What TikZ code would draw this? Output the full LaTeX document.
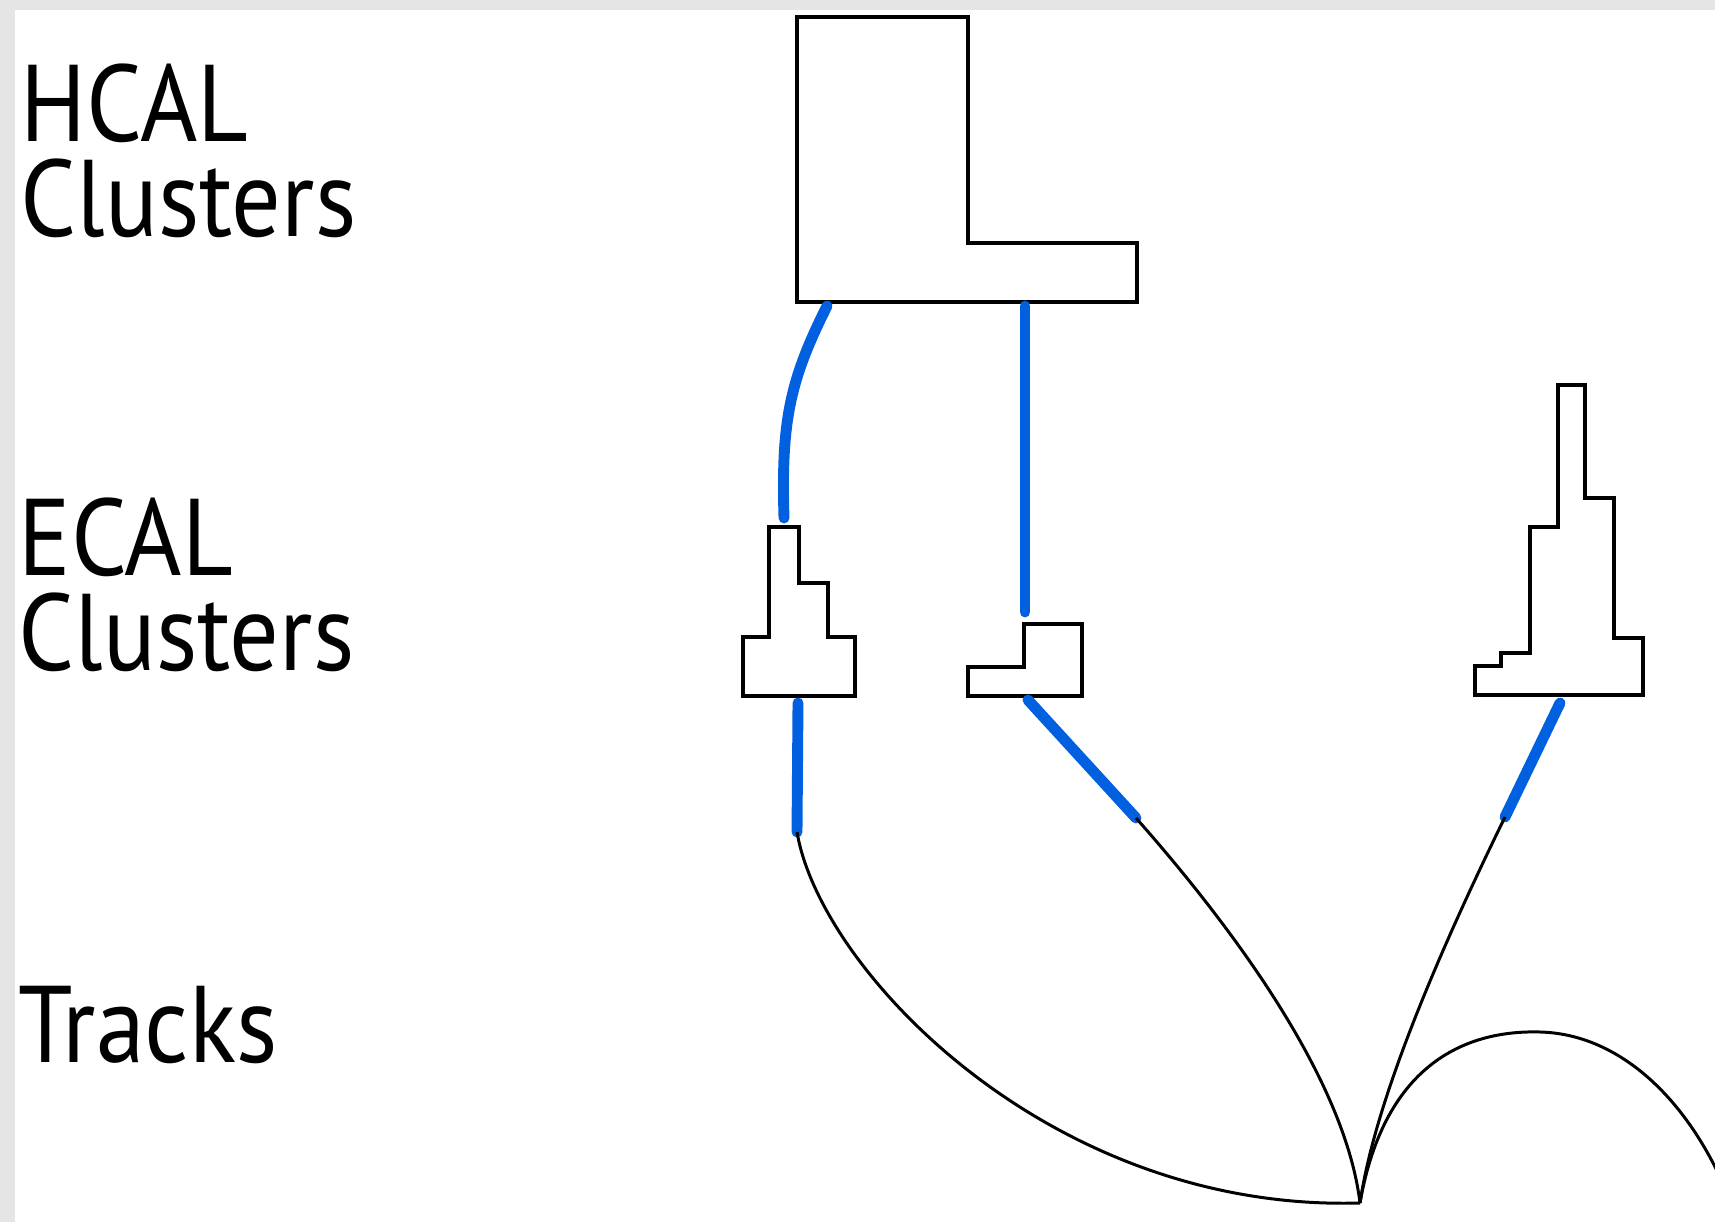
\documentclass[tikz,border=0pt]{standalone}
\usepackage{fontspec}
\newfontfamily\handfont[FakeStretch=0.9]{PT Sans}
\usepackage{xcolor}
\definecolor{trackblue}{RGB}{0,96,224}
\usetikzlibrary{positioning,calc}

\begin{document}
\begin{tikzpicture}[
    x=0.01cm, y=-0.01cm,
    cluster/.style={draw, line width=1.3pt, fill=white, line join=miter},
    link/.style={trackblue, line width=3.1pt, line cap=round},
    track/.style={black, line width=0.85pt},
    every node/.style={align=left, inner sep=0pt, anchor=north west,
        font=\handfont\fontsize{31}{27}\selectfont}
]
\useasboundingbox (0,0) rectangle (1715,1222);

% Frame
\fill[black!10] (0,0) rectangle (1715,1222);
\fill[white] (15,10) rectangle (1715,1222);

% Labels
\node (hcal) at (20,63) {HCAL\\Clusters};
\node (ecal) at (18,497) {ECAL\\Clusters};
\node (tracks) at (18,985) {Tracks};

% HCAL cluster
\draw[cluster] (797,17) -- (968,17) -- (968,243) -- (1137,243) -- (1137,302) -- (797,302) -- cycle;

% ECAL clusters
\draw[cluster] (743,696) -- (743,637) -- (769,637) -- (769,527) -- (799,527) -- (799,583)
    -- (828,583) -- (828,637) -- (855,637) -- (855,696) -- cycle;
\draw[cluster] (968,696) -- (968,667) -- (1024,667) -- (1024,624) -- (1082,624) -- (1082,696) -- cycle;
\draw[cluster] (1475,695) -- (1475,666) -- (1501,666) -- (1501,653) -- (1530,653) -- (1530,527)
    -- (1558,527) -- (1558,385) -- (1585,385) -- (1585,498) -- (1614,498) -- (1614,638)
    -- (1643,638) -- (1643,695) -- cycle;

% Attachment points
\coordinate (h1) at (827,306);
\coordinate (h2) at (1025,306);
\coordinate (e1top) at (784,518);
\coordinate (e2top) at (1025,612);
\coordinate (e1) at (798,703);
\coordinate (e2) at (1028,700);
\coordinate (e3) at (1560,703);
\coordinate (t1) at (797,832);
\coordinate (t2) at (1136,818);
\coordinate (t3) at (1505,817);
\coordinate (vtx) at (1360,1203);
\coordinate (exit) at (1730,1200);

% Cluster links
\draw[link] (h1) .. controls (790,380) and (781,420) .. (e1top);
\draw[link] (h2) -- (e2top);
\draw[link] (e1) -- (t1);
\draw[link] (e2) -- (t2);
\draw[link] (e3) -- (t3);

% Tracks
\draw[track] (t1) .. controls (820,970) and (1050,1212) .. (vtx);
\draw[track] (t2) .. controls (1235,930) and (1345,1080) .. (vtx);
\draw[track] (t3) .. controls (1440,950) and (1375,1100) .. (vtx);
\draw[track] (vtx) .. controls (1385,1060) and (1470,1030) .. (1540,1032)
    .. controls (1620,1034) and (1690,1100) .. (exit);

\end{tikzpicture}
\end{document}
